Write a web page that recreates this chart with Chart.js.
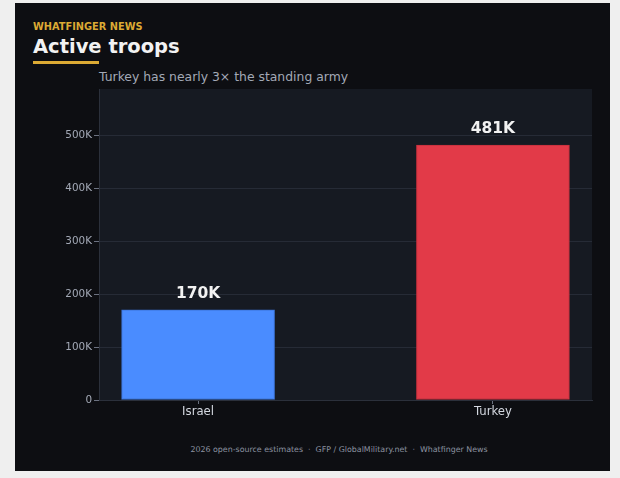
<!DOCTYPE html>
<html>
<head>
<meta charset="utf-8">
<script src="https://cdn.jsdelivr.net/npm/chart.js@4.4.1/dist/chart.umd.min.js"></script>
<style>
  html, body { margin: 0; padding: 0; background: #efefef; width: 620px; height: 478px; overflow: hidden; }
  #card { position: absolute; left: 15px; top: 3px; width: 595px; height: 468px; background: #0d0e12; font-family: "DejaVu Sans", sans-serif; }
  .kicker { position: absolute; left: 18px; top: 18px; font-size: 9.8px; font-weight: bold; color: #dcaa34; white-space: nowrap; }
  .title { position: absolute; left: 18px; top: 31.5px; font-size: 19.5px; font-weight: bold; color: #f2f2f2; white-space: nowrap; }
  .rule { position: absolute; left: 18px; top: 58px; width: 66px; height: 3px; background: #dcaa34; }
  .subtitle { position: absolute; left: 84px; top: 65.5px; font-size: 12.4px; color: #a3a9b6; white-space: nowrap; }
  .footer { position: absolute; left: 324px; top: 442px; transform: translateX(-50%); font-size: 7.9px; color: #8c92a0; white-space: pre; }
  #chart { position: absolute; left: 0; top: 77px; }
</style>
</head>
<body>
<div id="card">
  <div class="kicker">WHATFINGER NEWS</div>
  <div class="title">Active troops</div>
  <div class="rule"></div>
  <div class="subtitle">Turkey has nearly 3× the standing army</div>
  <canvas id="chart" width="595" height="352"></canvas>
  <div class="footer">2026 open-source estimates  ·  GFP / GlobalMilitary.net  ·  Whatfinger News</div>
</div>
<script>
// Données
const categories = ['Israel', 'Turkey'];
const troops = [170000, 481000];
const valueLabels = ['170K', '481K'];
const barColors = ['#4a8cff', '#e23a48'];
const barEdges = ['#3a72d6', '#c4313d'];
const yTickValues = [0, 100000, 200000, 300000, 400000, 500000];
const yTickLabels = ['0', '100K', '200K', '300K', '400K', '500K'];

document.addEventListener('DOMContentLoaded', function() {
    // fond de la zone de tracé
    const plotBackground = {
        id: 'plotBackground',
        beforeDraw(chart) {
            const { ctx, chartArea: a } = chart;
            ctx.save();
            ctx.fillStyle = '#161a22';
            ctx.fillRect(a.left, a.top, a.right - a.left, a.bottom - a.top);
            ctx.restore();
        }
    };

    // étiquettes de valeur au-dessus des barres
    const barValues = {
        id: 'barValues',
        afterDatasetsDraw(chart) {
            const ctx = chart.ctx;
            const meta = chart.getDatasetMeta(0);
            ctx.save();
            ctx.font = 'bold 15.5px "DejaVu Sans"';
            ctx.fillStyle = '#f2f2f2';
            ctx.textAlign = 'center';
            ctx.textBaseline = 'alphabetic';
            meta.data.forEach(function(bar, i) {
                ctx.fillText(valueLabels[i], bar.x, bar.y - 12);
            });
            ctx.restore();
        }
    };

    const ctx = document.getElementById('chart').getContext('2d');
    new Chart(ctx, {
        type: 'bar',
        data: {
            datasets: [{
                data: troops.map((v, i) => ({ x: i, y: v })),
                backgroundColor: barColors,
                borderColor: barEdges,
                borderWidth: 1,
                borderSkipped: false,
                barThickness: 153
            }]
        },
        options: {
            responsive: false,
            devicePixelRatio: 1,
            animation: false,
            layout: { padding: { top: 9, right: 18, left: 0, bottom: 0 } },
            plugins: {
                legend: { display: false },
                tooltip: { enabled: false }
            },
            scales: {
                x: {
                    type: 'linear',
                    offset: false,
                    bounds: 'data',
                    min: -0.336,
                    max: 1.336,
                    afterBuildTicks(scale) {
                        scale.ticks = categories.map((c, i) => ({ value: i }));
                    },
                    afterFit(scale) { scale.height = 32; },
                    grid: {
                        offset: false,
                        drawOnChartArea: false,
                        drawTicks: true,
                        tickLength: 4,
                        tickColor: '#6b7180'
                    },
                    border: { display: true, color: '#2b303b' },
                    ticks: {
                        padding: 1,
                        color: '#d4d8e0',
                        font: { family: 'DejaVu Sans', size: 11.7 },
                        callback: (v) => categories[v] ?? ''
                    }
                },
                y: {
                    min: 0,
                    max: 586820,
                    afterBuildTicks(scale) {
                        scale.ticks = yTickValues.map(v => ({ value: v }));
                    },
                    afterFit(scale) { scale.width = 84; },
                    grid: {
                        color: '#262b36',
                        lineWidth: 1,
                        drawTicks: true,
                        tickLength: 5,
                        tickColor: '#6b7180'
                    },
                    border: { display: true, color: '#2b303b' },
                    ticks: {
                        padding: 2,
                        color: '#a3a9b6',
                        font: { family: 'DejaVu Sans', size: 10.4 },
                        callback: (v, i) => yTickLabels[i]
                    }
                }
            }
        },
        plugins: [plotBackground, barValues]
    });
});
</script>
</body>
</html>
